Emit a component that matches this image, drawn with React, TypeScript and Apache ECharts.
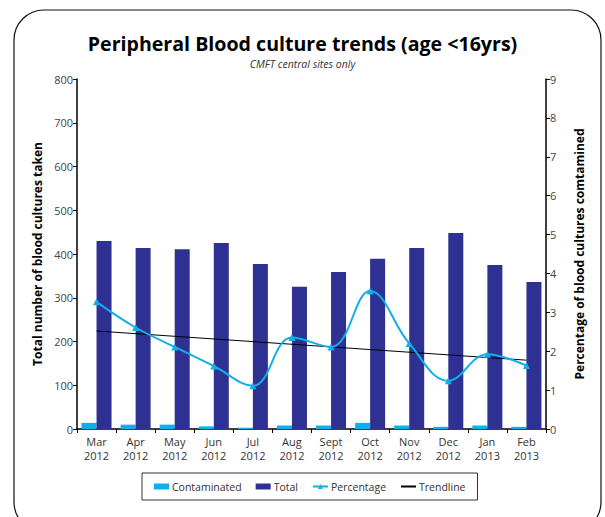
import React, { useEffect, useRef } from "react";
import * as echarts from "echarts";

const months = ["Mar\n2012", "Apr\n2012", "May\n2012", "Jun\n2012", "Jul\n2012", "Aug\n2012", "Sept\n2012", "Oct\n2012", "Nov\n2012", "Dec\n2012", "Jan\n2013", "Feb\n2013"];
const contaminated = [14, 10, 10, 6, 3, 8, 8, 14, 8, 5, 8, 5];
const total = [430, 414, 411, 425, 377, 325, 359, 389, 414, 448, 375, 336];
const percentage = [3.27, 2.61, 2.11, 1.62, 1.11, 2.35, 2.11, 3.55, 2.2, 1.24, 1.92, 1.63];
const trendline: (number | null)[] = [2.52, null, null, null, null, null, null, null, null, null, null, 1.77];

const FONT = "'Open Sans', 'Noto Sans', sans-serif";

export default function App() {
  const ref = useRef<HTMLDivElement>(null);
  useEffect(() => {
    if (!ref.current) return;
    const chart = echarts.init(ref.current, null, { renderer: "svg" });
    chart.setOption({
      animation: false,
      backgroundColor: "#fff",
      textStyle: { fontFamily: FONT },
      graphic: [
        {
          type: "rect",
          shape: { x: 14, y: 10, width: 587, height: 522, r: 30 },
          style: { fill: "none", stroke: "#111", lineWidth: 1.2 },
          silent: true,
          z: -1,
        },
      ],
      title: {
        text: "Peripheral Blood culture trends (age <16yrs)",
        subtext: "CMFT central sites only",
        left: "center",
        top: 28,
        itemGap: 5,
        textStyle: { fontFamily: FONT, fontSize: 19.6, fontWeight: "bold", color: "#000" },
        subtextStyle: { fontFamily: FONT, fontSize: 10.5, fontStyle: "italic", color: "#333" },
      },
      legend: {
        top: 473,
        left: 142,
        itemGap: 14,
        padding: [8, 12, 8, 12],
        borderColor: "#333",
        borderWidth: 1,
        itemWidth: 15,
        itemHeight: 6,
        textStyle: { fontFamily: FONT, fontSize: 10.5, color: "#333", padding: [0, 0, 0, -2] },
        data: [
          { name: "Contaminated", icon: "rect" },
          { name: "Total", icon: "rect" },
          { name: "Percentage" },
          { name: "Trendline", itemStyle: { opacity: 0 } },
        ],
      },
      grid: { left: 77, right: 59, top: 79, bottom: 88 },
      xAxis: {
        type: "category",
        data: months,
        axisLine: { lineStyle: { color: "#000", width: 1.5 } },
        axisTick: { show: true, length: 4, lineStyle: { color: "#000" } },
        axisLabel: { fontFamily: FONT, fontSize: 11, color: "#333", lineHeight: 14, margin: 5 },
      },
      yAxis: [
        {
          type: "value",
          min: 0,
          max: 800,
          interval: 100,
          name: "Total number of blood cultures taken",
          nameLocation: "middle",
          nameGap: 29,
          nameTextStyle: { fontFamily: FONT, fontSize: 12, fontWeight: "bold", color: "#000" },
          axisLine: { show: true, lineStyle: { color: "#000", width: 1.5 } },
          axisTick: { show: true, length: 4, lineStyle: { color: "#000" } },
          axisLabel: { fontFamily: FONT, fontSize: 11, color: "#444", margin: 4 },
          splitLine: { show: false },
        },
        {
          type: "value",
          min: 0,
          max: 9,
          interval: 1,
          name: "Percentage of blood cultures comtamined",
          nameLocation: "middle",
          nameGap: 27,
          nameRotate: 90,
          nameTextStyle: { fontFamily: FONT, fontSize: 12, fontWeight: "bold", color: "#000" },
          axisLine: { show: true, lineStyle: { color: "#000", width: 1.5 } },
          axisTick: { show: true, length: 4, lineStyle: { color: "#000" } },
          axisLabel: { fontFamily: FONT, fontSize: 11, color: "#444", margin: 4 },
          splitLine: { show: false },
        },
      ],
      series: [
        {
          name: "Contaminated",
          type: "bar",
          data: contaminated,
          barWidth: 15,
          barGap: "0%",
          itemStyle: { color: "#0fb0ea" },
        },
        {
          name: "Total",
          type: "bar",
          data: total,
          barWidth: 15,
          itemStyle: { color: "#2e3192" },
        },
        {
          name: "Percentage",
          type: "line",
          yAxisIndex: 1,
          data: percentage,
          smooth: 0.4,
          symbol: "triangle",
          symbolSize: 7,
          lineStyle: { color: "#12aee8", width: 2 },
          itemStyle: { color: "#12aee8" },
          z: 5,
        },
        {
          name: "Trendline",
          type: "line",
          yAxisIndex: 1,
          data: trendline,
          connectNulls: true,
          symbol: "none",
          lineStyle: { color: "#000", width: 1 },
          itemStyle: { color: "#000" },
          z: 4,
        },
      ],
    });
    return () => chart.dispose();
  }, []);
  return <div ref={ref} style={{ width: 605, height: 517, position: "absolute", left: 0, top: 0 }} />;
}
